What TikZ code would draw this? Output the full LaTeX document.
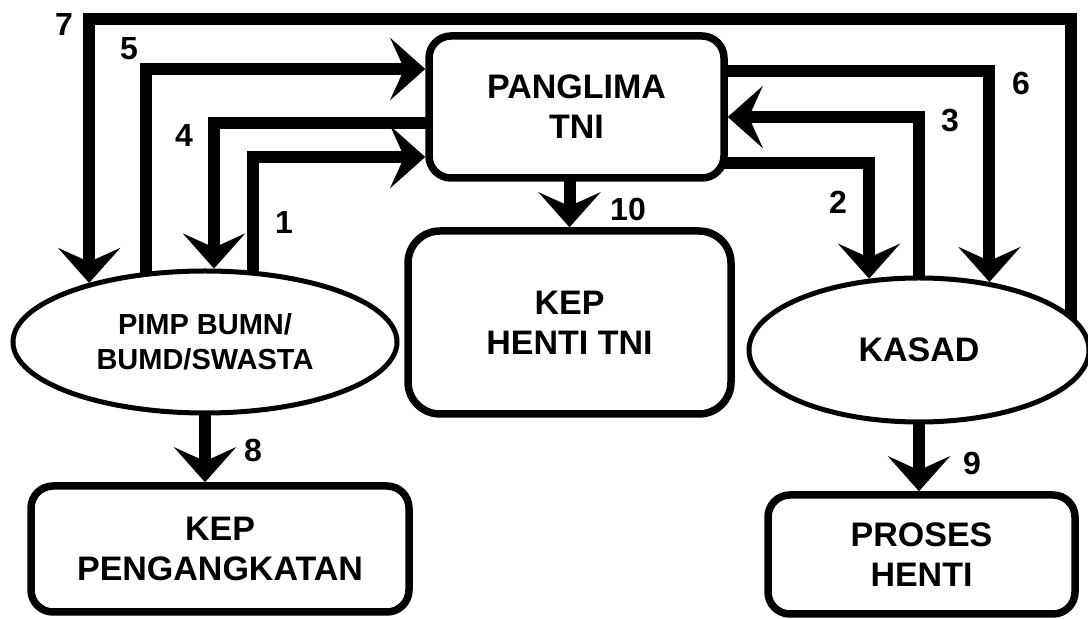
\documentclass[tikz,border=0pt]{standalone}
\usepackage{fontspec}
\setmainfont{Liberation Sans}
\usetikzlibrary{arrows.meta,shapes.geometric,backgrounds}
\begin{document}
\begin{tikzpicture}[x=0.5pt,y=-0.5pt,
  box/.style={draw, line width=3.75pt, rounded corners=11pt, fill=white, align=center,
    font=\bfseries\fontsize{17}{20}\selectfont, inner sep=0pt, outer sep=1.875pt},
  oval/.style={draw, ellipse, line width=2.5pt, fill=white, align=center, inner sep=0pt,
    outer sep=1.25pt, font=\bfseries\fontsize{17}{20}\selectfont},
  arr/.style={line width=6pt, shorten <=-5pt, -{Stealth[length=17.5pt,width=31pt,inset=7pt]}},
  lbl/.style={font=\bfseries\fontsize{16}{16}\selectfont, inner sep=0pt}
]
\useasboundingbox (0,0) rectangle (1088,619);

% nodes
\node[box, minimum width=147.5pt, minimum height=71pt] (pang) at (576.5,107) {PANGLIMA\\TNI};
\node[box, rounded corners=16pt, minimum width=161.5pt, minimum height=91.5pt] (kep) at (569.5,322.5) {KEP\\HENTI TNI};
\node[box, minimum width=189pt, minimum height=63pt] (peng) at (220,549) {KEP\\PENGANGKATAN};
\node[box, minimum width=153.5pt, minimum height=59.5pt] (proses) at (921.5,554.5) {PROSES\\HENTI};
\node[oval, minimum width=192pt, minimum height=71pt, font=\bfseries\fontsize{14.5}{17.5}\selectfont] (pimp) at (205,342) {PIMP BUMN/\\BUMD/SWASTA};
\node[oval, minimum width=170pt, minimum height=72pt] (kasad) at (919,350) {KASAD};

% levels of the horizontal runs
\coordinate (y7) at (0,19);
\coordinate (y5) at (0,69);
\coordinate (y6) at (0,71);
\coordinate (y3) at (0,117);
\coordinate (y4) at (0,123);
\coordinate (y1) at (0,157);
\coordinate (y2) at (0,163);

% connectors
\begin{scope}[on background layer]
\fill[white] (0,0) rectangle (1088,619);
\draw[arr] (pimp.56) |- (pang.west |- y1);
\draw[arr] (pang.east |- y2) -| (kasad.125);
\draw[arr] (kasad.north) |- (pang.east |- y3);
\draw[arr] (pang.west |- y4) -| (pimp.83);
\draw[arr] (pimp.130) |- (pang.west |- y5);
\draw[arr] (pang.east |- y6) -| (kasad.44);
\draw[arr, shorten <=-10pt] (kasad.13) -- (kasad.13 |- y7) -| (pimp.153);
\draw[arr] (pimp.south) -- (pimp.south |- peng.north);
\draw[arr] (kasad.south) -- (kasad.south |- proses.north);
\draw[arr] (kep.north |- pang.south) -- (kep.north);
\end{scope}

% labels
\node[lbl] (l1) at (284,222) {1};
\node[lbl] (l2) at (838,202) {2};
\node[lbl] (l3) at (950,121) {3};
\node[lbl] (l4) at (184,135) {4};
\node[lbl] (l5) at (129,49) {5};
\node[lbl] (l6) at (1021,83) {6};
\node[lbl] (l7) at (64,24) {7};
\node[lbl] (l8) at (253,450) {8};
\node[lbl] (l9) at (972,463) {9};
\node[lbl] (l10) at (628,209) {10};
\end{tikzpicture}
\end{document}
